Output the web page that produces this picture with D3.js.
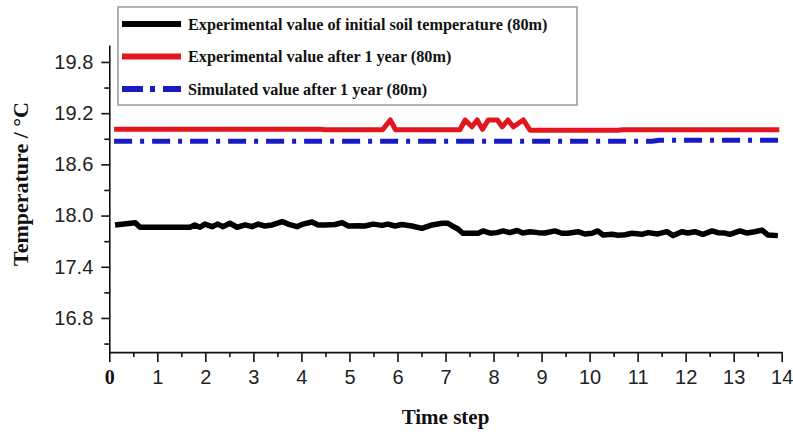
<!DOCTYPE html>
<html>
<head>
<meta charset="utf-8">
<script src="https://cdn.jsdelivr.net/npm/d3@7"></script>
<style>
  html, body { margin: 0; padding: 0; background: #fff; }
  svg { display: block; }
</style>
</head>
<body>
<svg id="chart" width="793" height="432"></svg>
<script>
// ---------- DATA ----------
const seriesNames = [
  "Experimental value of initial soil temperature (80m)",
  "Experimental value after 1 year (80m)",
  "Simulated value after 1 year (80m)"
];
const xTickValues = [0,1,2,3,4,5,6,7,8,9,10,11,12,13,14];
const xMinorTicks = [0.5,1.5,2.5,3.5,4.5,5.5,6.5,7.5,8.5,9.5,10.5,11.5,12.5,13.5];
const yTickValues = [16.8,17.4,18.0,18.6,19.2,19.8];
const yMinorTicks = [16.5,17.1,17.7,18.3,18.9,19.5];

const xInitial = [0.12,0.54,0.64,1.68,1.78,1.89,1.99,2.14,2.26,2.37,2.51,2.66,2.83,2.97,3.10,3.24,3.39,3.60,3.72,3.91,4.03,4.22,4.35,4.49,4.70,4.85,4.97,5.18,5.32,5.49,5.68,5.80,5.95,6.09,6.30,6.51,6.72,6.93,7.05,7.14,7.26,7.36,7.55,7.68,7.78,7.93,8.07,8.20,8.34,8.49,8.61,8.76,8.93,9.07,9.28,9.42,9.55,9.76,9.90,10.05,10.17,10.28,10.47,10.59,10.74,10.88,11.09,11.22,11.42,11.61,11.74,11.92,12.05,12.19,12.36,12.55,12.67,12.82,12.92,13.13,13.28,13.44,13.59,13.71,13.92];
const tInitial = [17.89,17.917,17.863,17.863,17.89,17.863,17.90,17.87,17.90,17.87,17.91,17.863,17.89,17.87,17.90,17.878,17.89,17.93,17.90,17.87,17.90,17.925,17.89,17.89,17.895,17.917,17.878,17.88,17.878,17.90,17.885,17.90,17.878,17.895,17.878,17.85,17.89,17.91,17.91,17.88,17.843,17.793,17.793,17.793,17.82,17.793,17.80,17.82,17.80,17.825,17.795,17.81,17.80,17.795,17.82,17.793,17.793,17.811,17.784,17.793,17.82,17.773,17.78,17.77,17.775,17.793,17.78,17.80,17.785,17.811,17.765,17.811,17.795,17.811,17.78,17.82,17.80,17.795,17.78,17.82,17.795,17.811,17.83,17.773,17.765];

const xAfter = [0.1,4.4,4.5,5.69,5.85,5.96,7.30,7.41,7.55,7.66,7.77,7.89,8.08,8.18,8.30,8.41,8.62,8.76,10.6,10.7,13.95];
const tAfter = [19.012,19.012,19.005,19.005,19.12,19.005,19.005,19.12,19.04,19.12,19.01,19.12,19.12,19.04,19.12,19.04,19.12,19.0,19.0,19.007,19.007];

const xSim = [0.1,11.3,11.45,13.95];
const tSim = [18.872,18.872,18.882,18.882];

// ---------- LAYOUT ----------
const svg = d3.select("#chart");
const x = d3.scaleLinear().domain([0,14]).range([109.3,781.7]);
const y = d3.scaleLinear().domain([16.4,20.0]).range([352.1,44.9]);

const sansFont = "'Liberation Sans', Arial, sans-serif";
const serifFont = "'Liberation Serif', 'Times New Roman', serif";

// ---------- AXES ----------
const gx = svg.append("g").attr("transform", `translate(0,${y(16.4)})`)
  .call(d3.axisBottom(x).tickValues(xTickValues).tickFormat(d3.format("d")).tickSize(10).tickSizeOuter(0).tickPadding(8));
gx.selectAll("text").attr("font-family", sansFont).attr("font-size", 20).attr("fill", "#222");
gx.selectAll("text").filter(d => d === 0)
  .attr("font-family", serifFont).attr("font-weight", "bold").attr("fill", "#111");
const gxm = svg.append("g").attr("transform", `translate(0,${y(16.4)})`)
  .call(d3.axisBottom(x).tickValues(xMinorTicks).tickFormat("").tickSize(5).tickSizeOuter(0));
gxm.select(".domain").remove();

const gy = svg.append("g").attr("transform", `translate(${x(0)},0)`)
  .call(d3.axisLeft(y).tickValues(yTickValues).tickFormat(d3.format(".1f")).tickSize(8).tickSizeOuter(0).tickPadding(8));
gy.selectAll("text").attr("font-family", sansFont).attr("font-size", 20).attr("fill", "#222");
const gym = svg.append("g").attr("transform", `translate(${x(0)},0)`)
  .call(d3.axisLeft(y).tickValues(yMinorTicks).tickFormat("").tickSize(5).tickSizeOuter(0));
gym.select(".domain").remove();

svg.selectAll(".domain, .tick line").attr("stroke", "#111").attr("stroke-width", 1.6);

// ---------- TITLES ----------
svg.append("text")
  .attr("x", (x(0)+x(14))/2).attr("y", 424)
  .attr("text-anchor", "middle")
  .attr("font-family", serifFont).attr("font-weight", "bold").attr("font-size", 21)
  .attr("fill", "#111")
  .text("Time step");

svg.append("text")
  .attr("transform", "translate(28,184) rotate(-90)")
  .attr("text-anchor", "middle")
  .attr("font-family", serifFont).attr("font-weight", "bold").attr("font-size", 22)
  .attr("fill", "#111")
  .text("Temperature / °C");

// ---------- LINES ----------
const line = d3.line().x(d => x(d[0])).y(d => y(d[1]));
const series = [
  { xs: xInitial, ys: tInitial, color: "#000", width: 5.5, dash: null },
  { xs: xAfter, ys: tAfter, color: "#e2161c", width: 5, dash: null },
  { xs: xSim, ys: tSim, color: "#1a1ac4", width: 5, dash: "18,8,4,8" }
];
series.forEach(s => {
  svg.append("path")
    .datum(d3.zip(s.xs, s.ys))
    .attr("d", line)
    .attr("fill", "none")
    .attr("stroke", s.color)
    .attr("stroke-width", s.width)
    .attr("stroke-linejoin", "round")
    .attr("stroke-dasharray", s.dash);
});

// ---------- LEGEND ----------
const lg = svg.append("g");
lg.append("rect").attr("x", 118).attr("y", 7).attr("width", 459).attr("height", 98)
  .attr("fill", "#fff").attr("stroke", "#999").attr("stroke-width", 1.5);
const legendDash = [null, null, "21,7,5,8"];
seriesNames.forEach((name, i) => {
  const cy = 24 + i * 32.5;
  lg.append("line").attr("x1", 122).attr("x2", 181).attr("y1", cy).attr("y2", cy)
    .attr("stroke", series[i].color).attr("stroke-width", 6)
    .attr("stroke-dasharray", legendDash[i]);
  lg.append("text").attr("x", 188).attr("y", cy + 5.5)
    .attr("font-family", serifFont).attr("font-weight", "bold").attr("font-size", 16.2)
    .attr("fill", "#111")
    .text(name);
});
</script>
</body>
</html>
